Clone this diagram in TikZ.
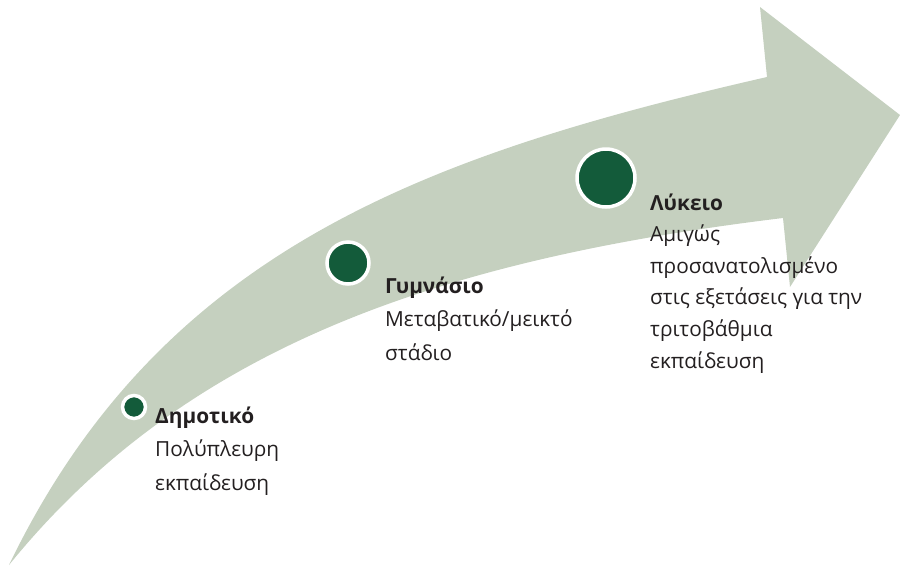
\documentclass[tikz,border=0pt]{standalone}
\usepackage{fontspec}
\setmainfont{Open Sans}
\definecolor{arrowgreen}{HTML}{C5D0BF}
\definecolor{dotgreen}{HTML}{135B3A}
\definecolor{textdark}{HTML}{231F20}
\tikzset{
  stagedot/.style={circle, fill=dotgreen, draw=white, line width=3.5pt, inner sep=0pt},
  stagetext/.style={anchor=base west, inner sep=0pt, text=textdark, align=left, font=\fontsize{20.8}{#1}\selectfont},
  stagetext/.default=33.4
}
\begin{document}
\begin{tikzpicture}[x=1pt,y=-1pt]
\useasboundingbox (0,0) rectangle (900,566);
% arrow body
\fill[arrowgreen] (9,565)
  .. controls (161,250) and (426,155) .. (767,77)
  -- (760,7) -- (900,115) -- (790,287) -- (783,218)
  .. controls (436.5,260) and (185,348) .. (9,565) -- cycle;
% dots
\node[stagedot, minimum size=23pt] (d1) at (134,407) {};
\node[stagedot, minimum size=42pt] (d2) at (348,263) {};
\node[stagedot, minimum size=58pt] (d3) at (606,178) {};
% labels (anchored at the baseline of the last line)
\node[stagetext] (s1) at (155,490) {\textbf{Δημοτικό}\\Πολύπλευρη\\εκπαίδευση};
\node[stagetext] (s2) at (385,360) {\textbf{Γυμνάσιο}\\Μεταβατικό/μεικτό\\στάδιο};
\node[stagetext=31.6] (s3) at (650,368) {\textbf{Λύκειο}\\Αμιγώς\\προσανατολισμένο\\στις εξετάσεις για την\\τριτοβάθμια\\εκπαίδευση};
\end{tikzpicture}
\end{document}
